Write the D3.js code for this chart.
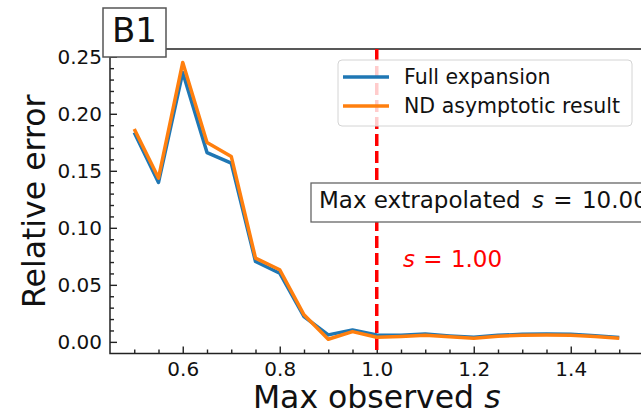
<!DOCTYPE html>
<html lang="en">
<head>
<meta charset="UTF-8">
<title>B1 relative error</title>
<script src="https://d3js.org/d3.v7.min.js"></script>
<style>
body { margin: 0; background: #fff; }
svg { display: block; font-family: "DejaVu Sans", sans-serif; }
.tick line { stroke: #222; stroke-width: 1.4px; }
.tick text { fill: #111; font-size: 20px; font-family: "DejaVu Sans", sans-serif; }
</style>
</head>
<body>
<svg width="641" height="414"></svg>
<script>

// data
var sValues = [0.50, 0.55, 0.60, 0.65, 0.70, 0.75, 0.80, 0.85, 0.90, 0.95, 1.00,
               1.05, 1.10, 1.15, 1.20, 1.25, 1.30, 1.35, 1.40, 1.45, 1.50];
var fullExpansion = [0.1836, 0.1398, 0.2362, 0.1660, 0.1567, 0.0705, 0.0602, 0.0222, 0.0061, 0.0105, 0.0061,
                     0.0058, 0.0068, 0.0052, 0.0040, 0.0058, 0.0066, 0.0068, 0.0066, 0.0054, 0.0038];
var ndAsymptotic = [0.1866, 0.1436, 0.2450, 0.1749, 0.1626, 0.0734, 0.0632, 0.0237, 0.0023, 0.0090, 0.0041,
                    0.0048, 0.0058, 0.0044, 0.0032, 0.0050, 0.0058, 0.0060, 0.0058, 0.0047, 0.0032];
var seriesNames = ["Full expansion", "ND asymptotic result"];
var seriesColors = ["#1f77b4", "#ff7f0e"];
var xTicks = [0.6, 0.8, 1.0, 1.2, 1.4];
var yTicks = [0.00, 0.05, 0.10, 0.15, 0.20, 0.25];
var observedLimit = 1.0;
var extrapolatedLimit = 10.0;

var svg = d3.select("svg");

var mLeft = 110, mTop = 49, mRight = 643.5, mBottom = 353.5;

var x = d3.scaleLinear().domain([0.45, 1.55]).range([mLeft, mRight]);
var y = d3.scaleLinear().domain([-0.0102, 0.2568]).range([mBottom, mTop]);

// minor ticks first
var xMinor = d3.range(0.50, 1.501, 0.05).filter(function(v) { return Math.abs(v * 5 - Math.round(v * 5)) > 1e-6; });
var yMinor = d3.range(0.0, 0.2501, 0.01).filter(function(v) { return Math.abs(v * 20 - Math.round(v * 20)) > 1e-6; });

svg.append("g")
    .attr("transform", "translate(0," + mBottom + ")")
    .call(d3.axisBottom(x).tickValues(xMinor).tickSize(-4).tickFormat(""))
    .call(function(g) { g.select(".domain").remove(); });

svg.append("g")
    .attr("transform", "translate(" + mLeft + ",0)")
    .call(d3.axisLeft(y).tickValues(yMinor).tickSize(-4).tickFormat(""))
    .call(function(g) { g.select(".domain").remove(); });

svg.append("g")
    .attr("transform", "translate(0," + mBottom + ")")
    .call(d3.axisBottom(x).tickValues(xTicks).tickSize(-7).tickPadding(8).tickFormat(d3.format(".1f")))
    .call(function(g) { g.select(".domain").remove(); });

svg.append("g")
    .attr("transform", "translate(" + mLeft + ",0)")
    .call(d3.axisLeft(y).tickValues(yTicks).tickSize(-7).tickPadding(8).tickFormat(d3.format(".2f")))
    .call(function(g) { g.select(".domain").remove(); });

// spines
svg.append("path")
    .attr("d", "M" + mRight + "," + mTop + "H" + mLeft + "V" + mBottom + "H" + mRight)
    .attr("fill", "none")
    .attr("stroke", "#222")
    .attr("stroke-width", 1.5);

// vertical marker at s = 1
svg.append("line")
    .attr("x1", x(observedLimit)).attr("x2", x(observedLimit))
    .attr("y1", mTop).attr("y2", mBottom)
    .attr("stroke", "#ff0000")
    .attr("stroke-width", 3.5)
    .attr("stroke-dasharray", "12,5");

var line = d3.line()
    .x(function(d, i) { return x(sValues[i]); })
    .y(function(d) { return y(d); });

[fullExpansion, ndAsymptotic].forEach(function(vals, i) {
  svg.append("path")
      .datum(vals)
      .attr("d", line)
      .attr("fill", "none")
      .attr("stroke", seriesColors[i])
      .attr("stroke-width", 3.5)
      .attr("stroke-linejoin", "round");
});

// legend
var lg = svg.append("g");
lg.append("rect")
    .attr("x", 338).attr("y", 60).attr("width", 294).attr("height", 66)
    .attr("rx", 4)
    .attr("fill", "#fff").attr("fill-opacity", 0.8)
    .attr("stroke", "#d4d4d4").attr("stroke-width", 1);
seriesNames.forEach(function(name, i) {
  var yy = 77 + i * 29;
  lg.append("line")
      .attr("x1", 343).attr("x2", 389)
      .attr("y1", yy).attr("y2", yy)
      .attr("stroke", seriesColors[i]).attr("stroke-width", 3.5);
  lg.append("text")
      .attr("x", 404).attr("y", yy + 7)
      .attr("font-size", "20.5px")
      .attr("fill", "#111")
      .text(name);
});

// extrapolation box
svg.append("rect")
    .attr("x", 311).attr("y", 183).attr("width", 360).attr("height", 39)
    .attr("fill", "#fff")
    .attr("stroke", "#666").attr("stroke-width", 1.3);
var ext = svg.append("text")
    .attr("x", 319).attr("y", 208)
    .attr("font-size", "23px")
    .attr("fill", "#111");
ext.append("tspan").text("Max extrapolated ");
ext.append("tspan").attr("dx", 4).attr("font-style", "italic").text("s");
ext.append("tspan").attr("dx", 2).text(" = ");
ext.append("tspan").attr("dx", 2).text(extrapolatedLimit.toFixed(2));

var sl = svg.append("text")
    .attr("x", 403).attr("y", 267)
    .attr("font-size", "23px")
    .attr("fill", "#ff0000");
sl.append("tspan").attr("font-style", "italic").text("s");
sl.append("tspan").attr("dx", 1).text(" = ");
sl.append("tspan").attr("dx", 1).text(observedLimit.toFixed(2));

// panel tag
svg.append("rect")
    .attr("x", 103).attr("y", 8).attr("width", 63).attr("height", 49)
    .attr("fill", "#fff")
    .attr("stroke", "#555").attr("stroke-width", 1.5);
svg.append("text")
    .attr("x", 134.5).attr("y", 42)
    .attr("text-anchor", "middle")
    .attr("font-size", "34px")
    .attr("fill", "#111")
    .text("B1");

// axis titles
var xl = svg.append("text")
    .attr("x", (mLeft + mRight) / 2).attr("y", 408)
    .attr("text-anchor", "middle")
    .attr("font-size", "31.5px")
    .attr("fill", "#111");
xl.append("tspan").text("Max observed ");
xl.append("tspan").attr("font-style", "italic").text("s");

svg.append("text")
    .attr("transform", "translate(45," + (mTop + mBottom) / 2 + ") rotate(-90)")
    .attr("text-anchor", "middle")
    .attr("font-size", "31.5px")
    .attr("fill", "#111")
    .text("Relative error");

</script>
</body>
</html>
